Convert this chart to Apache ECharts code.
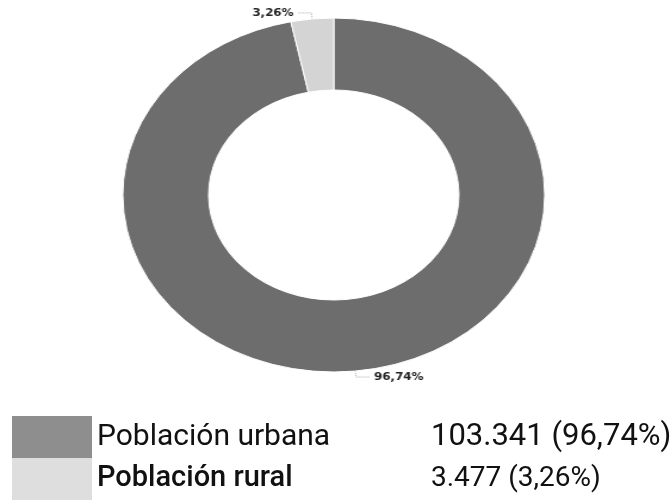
<!DOCTYPE html>
<html>
<head>
<meta charset="utf-8">
<script src="https://cdn.jsdelivr.net/npm/echarts@6/dist/echarts.min.js"></script>
<style>
html,body{margin:0;padding:0;background:#fff;width:671px;height:500px;overflow:hidden;}
#pie{position:absolute;left:0;top:0;width:563px;height:400px;transform:scaleX(1.192);transform-origin:0 0;}
#leg{position:absolute;left:0;top:0;width:671px;height:500px;}
</style>
</head>
<body>
<div id="pie"></div>
<div id="leg"></div>
<script>
const categories = ['Población urbana', 'Población rural'];
const values = [103341, 3477];
const colors = ['#6d6d6d', '#d4d4d4'];
const legendColors = ['#8e8e8e', '#dedede'];

const total = values.reduce((a, b) => a + b, 0);
const pct = v => (v / total * 100).toFixed(2).replace('.', ',');
const fmtNum = v => String(v).replace(/\B(?=(\d{3})+(?!\d))/g, '.');

const pieData = categories.map((c, i) => ({ name: c, value: values[i], itemStyle: { color: colors[i] } }));

const pie = echarts.init(document.getElementById('pie'), null, { renderer: 'canvas' });
pie.setOption({
  animation: false,
  series: [{
    type: 'pie',
    center: [280, 195],
    radius: [105, 177],
    startAngle: 90,
    clockwise: true,
    avoidLabelOverlap: false,
    data: pieData,
    itemStyle: { borderColor: '#fff', borderWidth: 1 },
    label: {
      show: true,
      position: 'outside',
      formatter: p => pct(p.value) + '%',
      fontFamily: 'DejaVu Sans',
      fontSize: 10,
      fontWeight: 'bold',
      color: '#222',
      distanceToLabelLine: 3
    },
    labelLine: {
      show: true,
      length: 6,
      length2: 12,
      lineStyle: { color: '#aaa', width: 1, type: 'dotted' }
    },
    emphasis: { disabled: true }
  }]
});

const rowStyle = ['u', 'r'];
const leg = echarts.init(document.getElementById('leg'), null, { renderer: 'canvas' });
leg.setOption({
  animation: false,
  legend: {
    orient: 'vertical',
    left: 12,
    top: 416,
    padding: 0,
    height: 84,
    itemWidth: 80,
    itemHeight: 42,
    itemGap: 0,
    icon: 'rect',
    selectedMode: false,
    data: categories.map((c, i) => ({ name: c, itemStyle: { color: legendColors[i] } })),
    formatter: name => {
      const i = categories.indexOf(name);
      const s = rowStyle[i];
      return '{' + s + 'n|' + name + '}{' + s + 'v|' + fmtNum(values[i]) + ' (' + pct(values[i]) + '%)}';
    },
    textStyle: {
      rich: {
        un: { width: 334, fontFamily: 'Roboto', fontSize: 30, color: '#111', lineHeight: 42 },
        uv: { fontFamily: 'Roboto', fontSize: 31, color: '#111', lineHeight: 42 },
        rn: { width: 334, fontFamily: 'Roboto', fontSize: 29, fontWeight: 500, color: '#111', lineHeight: 42 },
        rv: { fontFamily: 'Roboto', fontSize: 28, color: '#111', lineHeight: 42 }
      }
    }
  },
  series: [{
    type: 'pie',
    center: [-100, -100],
    radius: [0, 0],
    silent: true,
    label: { show: false },
    labelLine: { show: false },
    data: pieData
  }]
});
</script>
</body>
</html>
